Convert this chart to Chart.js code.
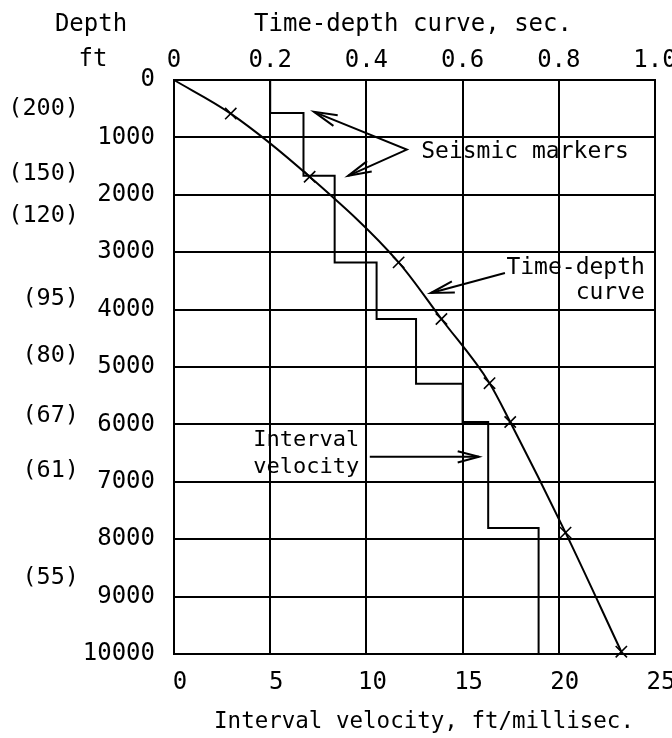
<!DOCTYPE html>
<html>
<head>
<meta charset="utf-8">
<script src="https://cdn.jsdelivr.net/npm/chart.js@4.4.1/dist/chart.umd.min.js"></script>
<style>
  html, body { margin: 0; padding: 0; background: #fff; }
  canvas { display: block; background: #fff; }
</style>
</head>
<body>
<canvas id="chart" width="672" height="738"></canvas>
<script>
// Time-depth curve: one-way time (s) and depth (ft) at each seismic marker
const markerTimes  = [0, 0.118, 0.282, 0.467, 0.556, 0.656, 0.699, 0.814, 0.930];
const markerDepths = [0, 585, 1685, 3177, 4164, 5282, 5958, 7885, 9960];

// Interval velocity (ft/ms) between successive depth boundaries (ft)
const intervalTops     = [0, 575, 1670, 3180, 4165, 5290, 5958, 7805];
const intervalBottoms  = [575, 1670, 3180, 4165, 5290, 5958, 7805, 10000];
const intervalVelocity = [5.0, 6.73, 8.35, 10.53, 12.58, 15.0, 16.33, 18.95];

// Interval transit times (microsec/ft) written beside the depth scale
const transitLabels = ['(200)', '(150)', '(120)', '(95)', '(80)', '(67)', '(61)', '(55)'];
const transitDepths = [497, 1630, 2363, 3810, 4800, 5845, 6804, 8680];

// Tick labels
const depthTickLabels    = ['0', '1000', '2000', '3000', '4000', '5000', '6000', '7000', '8000', '9000', '10000'];
const timeTickLabels     = ['0', '0.2', '0.4', '0.6', '0.8', '1.0'];
const velocityTickLabels = ['0', '5', '10', '15', '20', '25'];

const FAMILY = "'DejaVu Sans Mono', monospace";
const INK = '#000';

const curvePoints = markerTimes.map((t, i) => ({ x: t, y: markerDepths[i] }));
const stepPoints = [];
intervalVelocity.forEach((v, i) => {
  stepPoints.push({ x: v, y: intervalTops[i] });
  stepPoints.push({ x: v, y: intervalBottoms[i] });
});

// pick the label whose number equals the tick value
const labelFor = (labels, v) => labels.find(s => Math.abs(Number(s) - v) < 1e-6) ?? '';

function arrowHead(ctx, fx, fy, tx, ty, len, spread) {
  const a = Math.atan2(ty - fy, tx - fx);
  ctx.beginPath();
  ctx.moveTo(tx - len * Math.cos(a - spread), ty - len * Math.sin(a - spread));
  ctx.lineTo(tx, ty);
  ctx.lineTo(tx - len * Math.cos(a + spread), ty - len * Math.sin(a + spread));
  ctx.stroke();
}

// Headings, transit-time column and callouts
const callouts = {
  id: 'callouts',
  afterDraw(chart) {
    const { ctx, chartArea } = chart;
    const tx = chart.scales.x2, dy = chart.scales.y;
    const X = t => tx.getPixelForValue(t);
    const Y = d => dy.getPixelForValue(d);
    ctx.save();
    ctx.fillStyle = INK;
    ctx.strokeStyle = INK;
    ctx.lineWidth = 2;
    ctx.lineJoin = 'miter';
    ctx.textBaseline = 'middle';

    // axis headings
    ctx.font = '24px ' + FAMILY;
    ctx.textAlign = 'center';
    ctx.fillText('Depth', 91, 25);
    ctx.fillText('ft', 93, 60);
    ctx.fillText('Time-depth curve, sec.', 413, 25);
    ctx.font = '22.5px ' + FAMILY;
    ctx.fillText('Interval velocity, ft/millisec.', 424, 722);

    // transit-time column
    ctx.font = '23.5px ' + FAMILY;
    ctx.textAlign = 'right';
    transitLabels.forEach((s, i) => ctx.fillText(s, chartArea.left - 95, Y(transitDepths[i])));

    // seismic markers callout
    ctx.font = '23px ' + FAMILY;
    ctx.textAlign = 'left';
    ctx.fillText('Seismic markers', X(0.514), Y(1247));
    const p1 = [X(0.291), Y(555)], pv = [X(0.484), Y(1212)], p2 = [X(0.362), Y(1670)];
    ctx.beginPath();
    ctx.moveTo(p1[0], p1[1]); ctx.lineTo(pv[0], pv[1]); ctx.lineTo(p2[0], p2[1]);
    ctx.stroke();
    arrowHead(ctx, pv[0], pv[1], p1[0], p1[1], 24, 0.24);
    arrowHead(ctx, pv[0], pv[1], p2[0], p2[1], 24, 0.24);

    // time-depth curve callout
    ctx.textAlign = 'right';
    ctx.fillText('Time-depth', X(0.979), Y(3270));
    ctx.fillText('curve', X(0.979), Y(3705));
    const a0 = [X(0.688), Y(3362)], a1 = [X(0.534), Y(3711)];
    ctx.beginPath(); ctx.moveTo(a0[0], a0[1]); ctx.lineTo(a1[0], a1[1]); ctx.stroke();
    arrowHead(ctx, a0[0], a0[1], a1[0], a1[1], 24, 0.24);

    // interval velocity callout
    ctx.font = '22px ' + FAMILY;
    ctx.fillText('Interval', X(0.385), Y(6269));
    ctx.fillText('velocity', X(0.385), Y(6740));
    const b0 = [X(0.407), Y(6565)], b1 = [X(0.634), Y(6565)];
    ctx.beginPath(); ctx.moveTo(b0[0], b0[1]); ctx.lineTo(b1[0], b1[1]); ctx.stroke();
    arrowHead(ctx, b0[0], b0[1], b1[0], b1[1], 22, 0.26);

    ctx.restore();
  }
};

const tickFont = { family: FAMILY, size: 24 };
const gridOpts = { color: INK, lineWidth: 2, drawTicks: false };
const borderOpts = { display: true, color: INK, width: 2 };

new Chart(document.getElementById('chart'), {
  type: 'scatter',
  data: {
    datasets: [
      {
        label: 'Interval velocity',
        data: stepPoints,
        xAxisID: 'x', yAxisID: 'y',
        showLine: true,
        borderColor: INK, borderWidth: 2,
        pointRadius: 0, tension: 0
      },
      {
        label: 'Time-depth curve',
        data: curvePoints,
        xAxisID: 'x2', yAxisID: 'y',
        showLine: true,
        borderColor: INK, borderWidth: 2,
        cubicInterpolationMode: 'monotone',
        pointStyle: 'crossRot',
        pointRadius: c => (c.dataIndex === 0 ? 0 : 8),
        pointBorderWidth: 1.6,
        pointBorderColor: INK,
        clip: false
      }
    ]
  },
  options: {
    responsive: false,
    animation: false,
    devicePixelRatio: 1,
    layout: { padding: { left: 0, right: 17, top: 0, bottom: 0 } },
    plugins: { legend: { display: false }, tooltip: { enabled: false } },
    scales: {
      x: {
        type: 'linear', position: 'bottom', min: 0, max: 25,
        ticks: {
          stepSize: 5, autoSkip: false, maxRotation: 0, padding: 14, labelOffset: 6,
          color: INK, font: tickFont,
          callback: v => labelFor(velocityTickLabels, v)
        },
        grid: gridOpts, border: borderOpts,
        afterFit: s => { s.height = 84; s.paddingLeft = 0; s.paddingRight = 0; }
      },
      x2: {
        type: 'linear', position: 'top', min: 0, max: 1,
        ticks: {
          stepSize: 0.2, autoSkip: false, maxRotation: 0, padding: 5,
          color: INK, font: tickFont,
          callback: v => labelFor(timeTickLabels, v)
        },
        grid: { display: false, drawTicks: false }, border: borderOpts,
        afterFit: s => { s.height = 80; s.paddingLeft = 0; s.paddingRight = 0; }
      },
      y: {
        type: 'linear', position: 'left', reverse: true, min: 0, max: 10000,
        ticks: {
          stepSize: 1000, autoSkip: false, padding: 19,
          color: INK, font: tickFont,
          callback: v => labelFor(depthTickLabels, v)
        },
        grid: gridOpts, border: borderOpts,
        afterFit: s => { s.width = 174; s.paddingTop = 0; s.paddingBottom = 0; }
      }
    }
  },
  plugins: [callouts]
});
</script>
</body>
</html>
